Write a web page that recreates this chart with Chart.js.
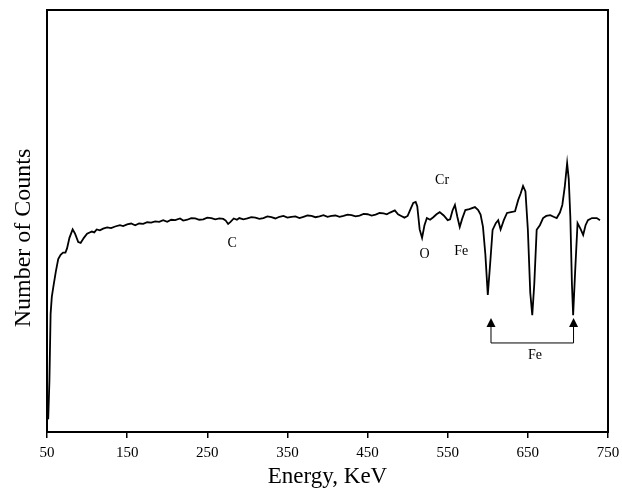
<!DOCTYPE html>
<html>
<head>
<meta charset="utf-8">
<script src="https://cdn.jsdelivr.net/npm/chart.js@4"></script>
<style>
  html, body { margin: 0; padding: 0; background: #fff; }
  #wrap { width: 622px; height: 495px; }
</style>
</head>
<body>
<div id="wrap"><canvas id="spectrum-chart"></canvas></div>
<script>
// energy (KeV) and counts
const energy = [50, 51.5, 53, 54.5, 56, 58, 61, 64, 67, 70, 73, 75, 78, 82, 85, 89, 92, 96, 100, 106,
  109, 112, 116, 120, 125, 130, 135, 141, 145, 150, 155, 160, 165, 170, 175, 180, 185, 190, 195, 200,
  205, 210, 216, 220, 225, 230, 235, 240, 245, 250, 255, 260, 265, 270, 273, 276, 279, 283, 287,
  290, 295, 300, 305, 310, 315, 320, 325, 330, 335, 340, 345, 350, 355, 360, 365, 370, 375, 380, 385,
  390, 395, 400, 405, 410, 415, 420, 425, 430, 435, 440, 445, 450, 455, 460, 465, 470, 474, 478,
  484, 488, 492, 496, 500, 504, 507, 510, 512, 515, 518, 521, 524, 528, 532, 536, 540, 545, 550, 553,
  556, 559, 562, 565, 568, 572, 577, 584, 588, 591, 594, 597, 600, 603, 606, 610, 613, 616, 620, 624,
  629, 634, 638, 641, 644, 647, 650, 653, 655.5, 658, 661, 665, 669, 673, 678, 682, 686, 690, 693, 696,
  699, 701, 703, 705, 706.5, 709, 712, 716, 719, 722, 725, 730, 736, 740];
const counts = [5, 3, 12, 28, 32, 34.5, 38, 41, 42, 42.5, 42.5, 43.5, 46, 48, 47, 45, 44.8, 46, 47, 47.5,
  47.3, 48, 47.8, 48.2, 48.5, 48.3, 48.7, 49, 48.8, 49.2, 49.4, 49, 49.4, 49.3, 49.7, 49.6, 49.9, 49.8, 50.2, 49.8,
  50.3, 50.2, 50.6, 50.1, 50.3, 50.7, 50.6, 50.3, 50.4, 50.8, 50.7, 50.4, 50.6, 50.5, 50.1, 49.3, 49.8, 50.6, 50.3,
  50.7, 50.4, 50.6, 50.9, 50.8, 50.5, 50.7, 51.1, 50.9, 50.6, 51, 51.2, 50.8, 51, 51.1, 50.7, 51, 51.3, 51.2, 50.9,
  51.1, 51.4, 51, 51.2, 51.3, 51, 51.2, 51.5, 51.4, 51.1, 51.3, 51.7, 51.6, 51.3, 51.5, 51.9, 51.8, 51.6, 52,
  52.5, 51.6, 51.2, 50.8, 51.2, 53, 54.3, 54.5, 53.5, 48, 46, 49, 50.7, 50.3, 50.9, 51.6, 52.1, 51.3, 50.2, 50.4,
  52.5, 53.8, 51, 48.6, 50.5, 52.6, 52.8, 53.3, 52.6, 51.5, 48.6, 42, 32.5, 40, 47.9, 49.5, 50.2, 48, 50.2, 51.9,
  52.1, 52.3, 55, 56.5, 58.3, 57, 48, 33, 27.7, 35, 47.9, 49, 50.7, 51.2, 51.4, 51, 50.7, 52, 53.8, 58,
  63.7, 60, 51, 35, 27.7, 38, 49.5, 48, 46.7, 49, 50.2, 50.7, 50.7, 50.2];

const xTicks = [50, 150, 250, 350, 450, 550, 650, 750];

// peak labels: [text, energy, counts]
const peakLabels = [
  ['C', 281, 44.8],
  ['O', 521, 42.2],
  ['Fe', 567, 42.7],
  ['Cr', 543, 59.7],
  ['Fe', 659, 18.2]
];
const feArrows = [604, 707];

const serif = 'Liberation Serif, Times New Roman, serif';

const annotate = {
  id: 'annotate',
  afterDraw(chart) {
    const { ctx, chartArea: a, scales: { x, y } } = chart;
    ctx.save();
    // frame
    ctx.strokeStyle = '#000';
    ctx.lineWidth = 2;
    ctx.strokeRect(a.left, a.top, a.right - a.left, a.bottom - a.top);

    ctx.fillStyle = '#000';
    ctx.font = '14px ' + serif;
    ctx.textAlign = 'center';
    ctx.textBaseline = 'middle';
    peakLabels.forEach(([t, e, c]) => ctx.fillText(t, x.getPixelForValue(e), y.getPixelForValue(c)));

    // bracket with arrows under the Fe dips
    const tipY = y.getPixelForValue(27);
    const baseY = y.getPixelForValue(21.1);
    const x1 = x.getPixelForValue(feArrows[0]);
    const x2 = x.getPixelForValue(feArrows[1]);
    ctx.lineWidth = 1;
    ctx.beginPath();
    ctx.moveTo(x1, tipY + 6);
    ctx.lineTo(x1, baseY);
    ctx.lineTo(x2, baseY);
    ctx.lineTo(x2, tipY + 6);
    ctx.stroke();
    [x1, x2].forEach(px => {
      ctx.beginPath();
      ctx.moveTo(px, tipY);
      ctx.lineTo(px - 4.5, tipY + 9);
      ctx.lineTo(px + 4.5, tipY + 9);
      ctx.closePath();
      ctx.fill();
    });

    // y title sits a bit below the middle in the original
    ctx.translate(24, 238);
    ctx.rotate(-Math.PI / 2);
    ctx.font = '24px ' + serif;
    ctx.fillText('Number of Counts', 0, 0);
    ctx.restore();
  }
};

const ctx = document.getElementById('spectrum-chart').getContext('2d');

new Chart(ctx, {
  type: 'line',
  data: {
    datasets: [{
      data: energy.map((e, i) => ({ x: e, y: counts[i] })),
      borderColor: '#000',
      borderWidth: 1.8,
      pointRadius: 0,
      tension: 0,
      fill: false
    }]
  },
  options: {
    responsive: true,
    maintainAspectRatio: false,
    animation: false,
    layout: { padding: { top: 10, right: 14, left: 0, bottom: 0 } },
    plugins: { legend: { display: false }, tooltip: { enabled: false } },
    scales: {
      x: {
        type: 'linear',
        min: 50,
        max: 750,
        afterBuildTicks: (scale) => { scale.ticks = xTicks.map(v => ({ value: v })); },
        afterFit: (scale) => {
          scale.height = 63;
          scale.paddingLeft = 0;
          scale.paddingRight = 0;
        },
        grid: { drawOnChartArea: false, color: '#000', tickLength: 6, lineWidth: 1.5 },
        border: { display: true, color: '#000', width: 2 },
        ticks: { color: '#000', font: { family: serif, size: 15 }, padding: 6, maxRotation: 0 },
        title: { display: true, text: 'Energy, KeV', color: '#000', font: { family: serif, size: 23 }, padding: { top: 2 } }
      },
      y: {
        min: 0,
        max: 100,
        afterFit: (scale) => { scale.width = 47; },
        grid: { display: false },
        border: { display: true, color: '#000', width: 2 },
        ticks: { display: false }
      }
    }
  },
  plugins: [annotate]
});
</script>
</body>
</html>
